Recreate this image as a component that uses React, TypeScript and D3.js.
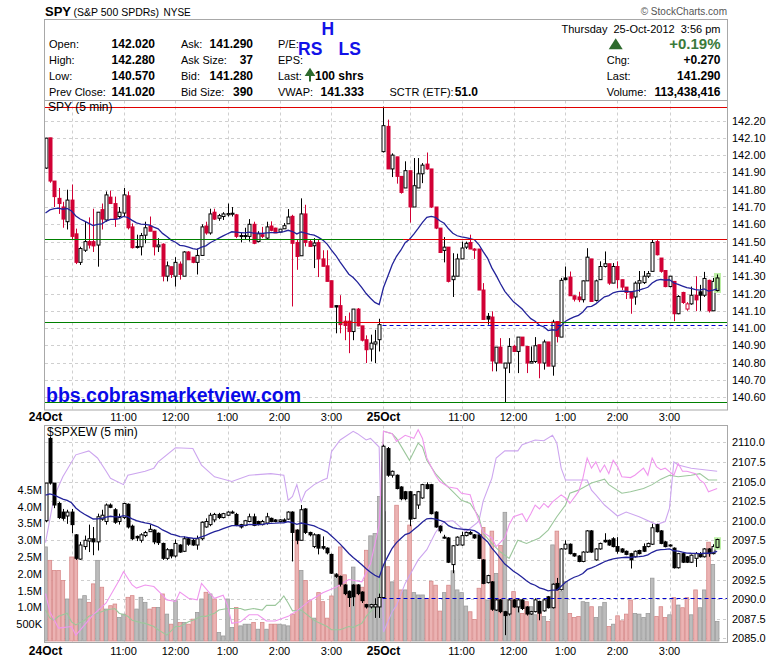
import React from "react";
import * as d3 from "d3";

// ---------- SPY 5-min OHLC (open, high, low, close) ----------
const spyDay1: number[][] = [
  [141.925,142.10,141.92,142.098],[142.10,142.10,141.84,141.85],[141.85,141.85,141.70,141.76],[141.75,141.81,141.66,141.72],[141.70,141.73,141.58,141.63],
  [141.615,141.80,141.57,141.74],[141.74,141.83,141.51,141.53],[141.545,141.575,141.37,141.38],[141.38,141.47,141.365,141.46],[141.45,141.615,141.44,141.50],
  [141.50,141.64,141.46,141.48],[141.50,141.69,141.44,141.475],[141.48,141.67,141.355,141.67],[141.685,141.72,141.57,141.63],[141.625,141.79,141.615,141.77],
  [141.757,141.795,141.72,141.72],[141.72,141.76,141.585,141.63],[141.645,141.70,141.635,141.67],[141.665,141.81,141.645,141.77],[141.765,141.79,141.57,141.58],
  [141.585,141.605,141.46,141.465],[141.472,141.54,141.46,141.468],[141.47,141.55,141.42,141.535],[141.537,141.615,141.49,141.58],[141.59,141.645,141.56,141.56],
  [141.56,141.56,141.42,141.47],[141.47,141.52,141.44,141.48],[141.485,141.49,141.27,141.30],[141.30,141.385,141.27,141.36],[141.355,141.355,141.29,141.31],
  [141.30,141.41,141.24,141.38],[141.37,141.385,141.28,141.31],[141.30,141.445,141.30,141.44],[141.44,141.445,141.395,141.395],[141.41,141.41,141.375,141.38],
  [141.38,141.46,141.31,141.42],[141.42,141.60,141.42,141.585],[141.59,141.615,141.54,141.55],[141.55,141.69,141.54,141.66],[141.67,141.69,141.625,141.63],
  [141.635,141.66,141.62,141.65],[141.645,141.67,141.625,141.66],[141.655,141.72,141.645,141.662],[141.658,141.70,141.645,141.664],[141.655,141.66,141.52,141.53],
  [141.535,141.55,141.495,141.533],[141.535,141.58,141.51,141.534],[141.53,141.63,141.50,141.60],[141.60,141.615,141.485,141.49],[141.50,141.56,141.495,141.545],
  [141.54,141.585,141.52,141.53],[141.52,141.615,141.51,141.585],[141.59,141.617,141.56,141.565],[141.578,141.58,141.55,141.55],[141.555,141.572,141.55,141.572],
  [141.574,141.607,141.574,141.592],[141.603,141.688,141.603,141.642],[141.646,141.655,141.125,141.49],[141.495,141.51,141.337,141.414],[141.418,141.75,141.418,141.66],
  [141.66,141.713,141.472,141.495],[141.50,141.51,141.472,141.472],[141.476,141.52,141.347,141.492],[141.495,141.51,141.295,141.40],[141.40,141.45,141.357,141.357],
  [141.36,141.45,141.27,141.27],[141.274,141.274,141.12,141.12],[141.13,141.13,140.97,141.122],[141.13,141.19,140.97,141.02],[141.04,141.07,140.93,141.015],
  [141.04,141.09,140.855,140.98],[140.98,141.11,140.93,141.11],[141.11,141.116,141.01,141.013],[141.013,141.013,140.923,140.93],[140.933,140.958,140.798,140.875],
  [140.879,140.962,140.807,140.913],[140.908,140.99,140.798,140.92],[140.933,141.054,140.865,141.02],
];
const spyDay2: number[][] = [
  [142.02,142.28,142.015,142.17],[142.166,142.205,141.92,141.92],
  [141.92,142.01,141.873,142.00],[141.99,141.99,141.835,141.877],[141.877,141.877,141.777,141.784],[141.81,141.964,141.81,141.91],[141.91,141.91,141.61,141.70],
  [141.70,141.983,141.70,141.823],[141.81,141.983,141.81,141.892],[141.892,141.954,141.838,141.942],[141.948,142.015,141.915,141.92],[141.92,141.92,141.694,141.70],
  [141.70,141.70,141.572,141.578],[141.578,141.578,141.434,141.437],[141.449,141.526,141.38,141.468],[141.468,141.468,141.264,141.27],[141.28,141.433,141.18,141.30],
  [141.30,141.43,141.30,141.40],[141.40,141.50,141.40,141.463],[141.468,141.50,141.457,141.49],[141.495,141.54,141.457,141.457],[141.457,141.462,141.40,141.45],
  [141.457,141.457,141.22,141.22],[141.22,141.26,141.05,141.05],[141.068,141.087,141.02,141.052],[141.064,141.097,140.75,140.81],[140.798,140.89,140.75,140.89],
  [140.89,140.942,140.798,140.798],[140.769,140.798,140.57,140.798],[140.798,140.942,140.74,140.894],[140.894,140.904,140.865,140.865],[140.865,140.948,140.74,140.948],
  [140.948,140.948,140.898,140.898],[140.894,140.894,140.74,140.798],[140.798,140.894,140.798,140.807],[140.807,140.948,140.798,140.898],[140.904,140.904,140.71,140.798],
  [140.798,140.933,140.76,140.92],[140.92,140.92,140.78,140.78],[140.78,141.048,140.725,141.035],[141.038,141.038,140.917,140.952],[140.948,141.29,140.948,141.276],
  [141.29,141.356,141.276,141.28],[141.295,141.327,141.187,141.187],[141.187,141.19,141.154,141.167],[141.18,141.21,141.15,141.164],[141.164,141.275,141.148,141.273],
  [141.273,141.462,141.273,141.41],[141.40,141.40,141.154,141.154],[141.16,141.28,141.154,141.273],[141.28,141.386,141.28,141.356],[141.356,141.443,141.35,141.372],
  [141.372,141.372,141.25,141.26],[141.26,141.376,141.26,141.356],[141.356,141.386,141.23,141.28],[141.28,141.28,141.22,141.237],[141.237,141.237,141.168,141.206],
  [141.212,141.212,141.083,141.173],[141.18,141.27,141.135,141.26],[141.26,141.33,141.21,141.274],[141.263,141.33,141.255,141.30],[141.30,141.33,141.29,141.315],
  [141.328,141.51,141.328,141.495],[141.50,141.51,141.42,141.424],[141.405,141.405,141.32,141.328],[141.333,141.333,141.236,141.24],[141.24,141.30,141.236,141.30],
  [141.27,141.27,141.04,141.083],[141.083,141.19,141.08,141.183],[141.206,141.21,141.14,141.148],[141.11,141.15,141.10,141.14],[141.14,141.24,141.135,141.19],
  [141.19,141.30,141.098,141.163],[141.21,141.25,141.10,141.19],[141.19,141.325,141.18,141.287],[141.276,141.28,141.09,141.10],[141.10,141.29,141.10,141.27],
  [141.217,141.31,141.212,141.29],
];

// ---------- $SPXEW 5-min OHLC ----------
const ewDay1: number[][] = [
  [2100.0,2104.8,2099.8,2104.8],[2110.5,2110.7,2104.6,2104.8],[2104.8,2104.8,2101.6,2102.0],[2102.2,2102.4,2100.2,2100.4],[2101.1,2101.5,2100.0,2100.3],
  [2100.6,2101.4,2099.6,2101.1],[2101.1,2101.5,2098.4,2099.5],[2098.2,2098.3,2095.0,2095.2],[2095.1,2097.3,2095.0,2096.9],[2096.7,2098.1,2096.3,2097.5],
  [2097.4,2099.5,2096.0,2097.7],[2097.7,2099.2,2095.6,2097.3],[2097.3,2100.9,2096.2,2100.5],[2100.2,2101.4,2100.0,2100.7],[2099.9,2102.2,2099.5,2102.0],
  [2102.0,2102.2,2101.6,2101.7],[2101.4,2101.6,2099.6,2099.8],[2099.9,2100.9,2099.5,2100.4],[2100.4,2102.3,2100.2,2102.2],[2102.1,2102.2,2099.0,2099.2],
  [2099.3,2099.5,2097.5,2097.7],[2098.0,2098.1,2097.4,2097.8],[2097.5,2098.4,2097.2,2098.2],[2098.1,2098.7,2097.9,2098.5],[2098.6,2099.5,2098.6,2098.9],
  [2098.8,2098.9,2097.0,2097.3],[2098.4,2098.5,2096.9,2097.2],[2097.1,2097.2,2095.0,2095.2],[2095.2,2096.5,2095.0,2096.3],[2096.3,2096.4,2095.2,2095.5],
  [2095.5,2097.6,2095.3,2097.1],[2096.9,2097.0,2095.9,2096.0],[2096.1,2098.0,2096.0,2097.7],[2097.7,2097.8,2096.8,2097.0],[2097.5,2097.7,2096.8,2096.9],
  [2096.9,2098.1,2096.3,2097.7],[2097.7,2099.9,2097.5,2099.8],[2099.2,2100.3,2099.1,2099.9],[2099.5,2101.0,2099.3,2100.7],[2100.1,2101.0,2099.8,2100.8],
  [2100.8,2101.0,2100.2,2100.4],[2100.4,2101.0,2100.3,2100.9],[2100.7,2101.2,2100.6,2101.1],[2101.0,2101.3,2100.9,2101.1],[2100.8,2101.0,2099.3,2099.4],
  [2099.5,2099.6,2099.0,2099.2],[2099.4,2100.1,2099.3,2100.0],[2099.9,2100.9,2099.8,2100.5],[2100.5,2100.9,2099.3,2099.4],[2099.9,2100.0,2099.4,2099.5],
  [2099.5,2100.1,2099.4,2099.9],[2099.7,2101.0,2099.5,2100.5],[2100.3,2100.4,2099.8,2099.9],[2100.1,2100.2,2099.8,2099.9],[2099.9,2100.2,2099.8,2100.1],
  [2100.1,2100.3,2099.8,2099.9],[2100.2,2101.2,2100.1,2101.1],[2101.1,2101.2,2094.8,2098.5],[2098.8,2098.9,2097.0,2097.5],[2097.5,2102.0,2097.5,2101.4],
  [2101.5,2101.6,2098.3,2098.5],[2098.5,2098.6,2098.0,2098.2],[2096.7,2098.4,2096.5,2098.2],[2098.2,2098.3,2095.7,2096.5],[2096.7,2098.0,2096.3,2096.5],
  [2096.5,2096.6,2095.7,2095.9],[2095.7,2095.8,2093.2,2093.3],[2093.1,2093.3,2092.7,2092.9],[2092.9,2093.0,2091.6,2091.9],[2091.8,2091.9,2090.5,2090.7],
  [2091.0,2091.1,2089.0,2090.2],[2091.8,2091.9,2089.1,2090.3],[2091.8,2091.9,2090.5,2090.7],[2090.9,2091.0,2089.5,2089.8],[2089.3,2089.4,2088.8,2089.0],
  [2089.0,2089.4,2088.8,2089.3],[2089.0,2090.1,2087.6,2089.3],[2089.0,2090.7,2087.6,2090.2],
];
const ewDay2: number[][] = [
  [2090.2,2109.7,2090.2,2109.5],[2109.2,2109.4,2105.6,2105.8],
  [2105.8,2106.4,2105.5,2106.3],[2105.8,2105.9,2104.0,2104.1],[2104.3,2104.4,2102.6,2102.8],[2103.7,2103.8,2102.6,2102.8],[2103.7,2103.8,2099.3,2100.2],
  [2100.3,2103.4,2100.2,2103.3],[2102.0,2103.8,2101.5,2103.7],[2102.9,2104.7,2102.8,2104.6],[2104.6,2104.9,2104.0,2104.1],[2104.6,2104.7,2100.8,2100.9],
  [2101.1,2101.2,2099.1,2099.2],[2099.3,2099.4,2098.4,2098.7],[2097.8,2098.2,2097.7,2097.9],[2097.8,2097.9,2094.6,2094.7],[2094.4,2096.9,2093.3,2096.8],
  [2096.9,2098.0,2096.8,2097.9],[2096.9,2098.6,2096.8,2098.1],[2098.1,2098.6,2098.0,2098.5],[2098.5,2098.7,2098.2,2098.3],[2098.2,2098.3,2097.7,2097.8],
  [2098.2,2098.3,2095.1,2095.2],[2095.0,2095.1,2091.9,2092.0],[2092.1,2093.1,2092.0,2093.0],[2092.2,2092.3,2088.5,2088.7],[2088.6,2090.0,2088.5,2089.9],
  [2089.9,2090.0,2088.2,2088.4],[2088.4,2088.5,2085.4,2087.9],[2088.1,2090.0,2087.9,2089.9],[2089.9,2090.0,2088.9,2089.0],[2089.0,2090.1,2088.3,2089.9],
  [2089.9,2090.0,2088.6,2088.8],[2089.0,2089.1,2087.9,2088.1],[2088.1,2088.5,2088.0,2088.4],[2088.4,2090.1,2088.3,2089.9],[2089.7,2089.8,2087.3,2088.2],
  [2088.5,2090.0,2088.4,2089.9],[2090.3,2090.4,2088.8,2088.9],[2088.9,2092.0,2088.8,2091.9],[2092.0,2092.7,2091.1,2091.2],[2091.2,2096.5,2091.1,2096.4],
  [2096.4,2097.5,2096.3,2097.0],[2097.0,2097.1,2095.7,2095.8],[2095.8,2095.9,2095.4,2095.5],[2095.5,2095.6,2094.7,2094.8],[2094.8,2096.1,2094.7,2096.0],
  [2096.0,2098.8,2095.9,2098.7],[2098.7,2098.8,2095.9,2096.0],[2095.0,2096.5,2094.9,2096.4],[2096.4,2097.2,2096.3,2097.1],[2097.5,2098.4,2097.2,2097.3],
  [2097.5,2097.6,2096.8,2096.9],[2097.7,2097.9,2096.6,2096.7],[2096.7,2097.9,2095.8,2096.1],[2096.4,2096.5,2095.9,2096.0],[2096.1,2096.2,2095.6,2095.7],
  [2095.8,2095.9,2093.9,2095.0],[2095.4,2096.2,2095.3,2096.1],[2096.2,2096.3,2095.7,2095.8],[2096.7,2097.1,2096.0,2096.1],[2096.7,2097.2,2096.6,2097.1],
  [2097.0,2099.6,2096.9,2099.1],[2099.5,2099.6,2098.5,2098.6],[2098.7,2098.8,2097.0,2097.1],[2097.3,2097.4,2096.6,2096.7],[2096.8,2097.0,2096.7,2096.9],
  [2096.5,2096.6,2093.9,2094.0],[2094.0,2095.9,2093.9,2095.8],[2095.8,2095.9,2094.6,2094.7],[2095.4,2095.5,2094.6,2094.7],[2094.7,2095.7,2094.6,2095.6],
  [2095.2,2096.0,2094.1,2095.8],[2095.8,2096.0,2095.3,2095.4],[2095.4,2096.5,2095.3,2096.4],[2096.4,2096.5,2095.4,2095.8],[2095.8,2097.0,2095.7,2096.7],
  [2096.6,2097.7,2096.5,2097.6],
];

// ---------- SPY volume, millions of shares per bar ----------
const spyVolumeM: number[] = [
  2.8,2.4,2.1,2.1,1.8,1.25,2.5,2.5,1.25,1.35,
  1.15,1.7,2.4,1.6,0.95,1.05,1.1,0.7,0.8,1.3,
  1.35,0.95,1.3,1.15,0.95,1.0,1.0,1.4,0.8,0.5,
  1.2,0.55,0.55,0.5,0.65,0.85,1.25,1.45,1.4,1.25,
  0.25,0.15,1.25,0.4,1.0,0.45,0.5,0.5,0.55,0.35,
  0.55,0.35,0.5,0.5,0.5,0.48,0.45,0.8,3.3,2.1,
  1.8,1.2,0.68,1.44,1.17,0.68,1.34,2.0,2.8,1.97,
  1.44,2.2,1.67,1.6,2.7,3.13,3.2,4.3,3.85,2.21,
  1.76,4.04,1.52,1.52,3.45,1.44,1.37,1.37,1.27,1.78,
  1.66,0.89,1.44,1.66,2.09,1.52,1.44,1.04,0.87,0.64,
  1.57,3.38,1.22,3.27,2.01,2.84,3.83,0.85,1.47,1.02,
  0.82,1.17,1.02,0.78,0.87,0.73,0.58,2.86,3.27,1.47,
  1.77,0.82,0.7,0.73,1.17,1.15,1.02,0.7,1.02,1.15,
  0.43,0.5,0.75,0.6,0.8,1.22,0.82,0.8,0.7,0.82,
  1.87,0.73,1.02,0.7,0.78,1.29,1.07,0.99,1.29,0.78,
  1.52,0.99,1.52,2.94,2.28,0.58,
];

// ---------- comparison overlays in lower panel: [bar, value on panel scale] ----------
const purpleLine: number[][] = [
  [0,2097.2],[2,2103.1],[4,2105.6],[7,2108.4],[10,2108.9],[12,2108.0],[14,2106.3],[15,2105.4],[18,2104.6],[19,2105.8],
  [23,2106.3],[25,2106.7],[26,2107.5],[30,2109.3],[34,2109.2],[36,2107.1],[39,2105.6],[43,2105.0],[47,2105.8],[52,2106.0],
  [55,2105.8],[56,2102.6],[57,2103.1],[58,2104.6],[59,2102.4],[60,2103.7],[62,2104.6],[64,2105.2],[65,2105.4],[66,2108.8],
  [68,2110.3],[71,2111.4],[72,2111.1],[74,2110.3],[75,2110.5],[77,2109.4],[78,2085.8],[80,2088.4],[81,2089.2],[83,2092.0],
  [85,2094.0],[86,2095.0],[88,2096.3],[90,2098.5],[92,2099.9],[94,2100.0],[97,2098.6],[100,2099.9],[101,2102.5],[103,2105.4],
  [104,2108.0],[106,2108.9],[109,2108.9],[110,2109.7],[113,2110.3],[115,2110.2],[117,2110.9],[118,2109.9],[119,2106.7],[120,2105.2],
  [125,2105.2],[126,2103.9],[127,2103.3],[129,2102.0],[132,2100.6],[134,2101.1],[137,2100.5],[141,2099.5],[143,2099.9],[144,2101.6],
  [145,2107.5],[146,2107.1],[149,2106.7],[152,2106.5],[155,2106.3],
];
const pinkLine: number[][] = [
  [0,2090.7],[1,2088.4],[3,2086.3],[6,2086.5],[7,2085.4],[11,2088.0],[14,2089.5],[17,2092.4],[18,2093.5],[20,2091.8],
  [21,2091.4],[23,2091.8],[25,2091.6],[27,2090.5],[28,2089.9],[30,2089.7],[31,2090.9],[33,2090.1],[35,2089.9],[36,2092.0],
  [38,2090.7],[39,2090.1],[41,2090.5],[42,2089.2],[43,2086.9],[45,2087.1],[47,2088.0],[49,2088.0],[51,2087.2],[53,2087.2],
  [56,2087.8],[58,2088.5],[61,2089.8],[64,2090.8],[67,2091.5],[70,2092.5],[73,2092.2],[75,2094.5],[77,2099.5],[78,2111.4],
  [80,2111.1],[81,2110.1],[83,2110.9],[85,2110.5],[86,2111.6],[87,2110.5],[88,2108.0],[90,2105.8],[91,2105.0],[93,2104.3],
  [95,2104.1],[96,2103.5],[98,2103.3],[99,2101.5],[101,2098.5],[103,2097.8],[104,2096.7],[106,2097.8],[107,2099.5],[108,2100.5],
  [110,2100.9],[111,2099.9],[112,2100.9],[113,2102.0],[114,2101.5],[115,2102.2],[116,2101.7],[117,2102.4],[119,2103.3],[120,2102.9],
  [121,2102.2],[123,2103.7],[124,2105.4],[125,2108.0],[126,2106.7],[127,2107.5],[128,2106.2],[129,2107.1],[130,2106.0],[131,2107.7],
  [132,2106.9],[133,2105.6],[135,2105.5],[136,2105.8],[138,2106.7],[139,2105.8],[140,2108.0],[141,2106.9],[142,2106.5],[143,2106.7],
  [145,2105.8],[146,2107.3],[147,2106.3],[148,2106.3],[150,2106.0],[151,2105.2],[152,2104.8],[153,2103.7],[155,2104.1],
];
const greenLine: number[][] = [
  [0,2088.6],[1,2087.6],[2,2087.3],[3,2087.8],[5,2088.2],[6,2087.1],[7,2086.7],[9,2087.3],[10,2087.8],[12,2088.2],
  [14,2088.6],[16,2088.8],[17,2088.2],[19,2087.8],[20,2087.3],[22,2087.0],[23,2086.9],[25,2086.5],[26,2086.1],[28,2085.4],
  [30,2086.5],[31,2086.5],[33,2087.1],[34,2087.3],[36,2087.8],[37,2087.8],[39,2088.2],[40,2088.6],[42,2088.8],[45,2088.8],
  [46,2088.6],[48,2088.8],[50,2088.6],[51,2089.2],[53,2089.2],[54,2089.7],[55,2090.4],[56,2089.5],[57,2088.5],[59,2088.6],
  [62,2087.3],[63,2087.0],[65,2086.5],[66,2086.1],[68,2086.1],[70,2086.5],[71,2086.4],[73,2086.9],[74,2087.8],[76,2089.0],
  [77,2089.5],[78,2111.4],[80,2111.1],[81,2110.5],[84,2107.7],[86,2109.9],[87,2109.4],[88,2107.7],[90,2106.0],[92,2104.8],
  [94,2103.7],[96,2102.6],[98,2102.2],[100,2100.5],[101,2098.4],[103,2097.1],[105,2096.0],[107,2095.2],[109,2097.5],[111,2097.1],
  [114,2097.8],[116,2098.8],[118,2100.5],[120,2102.0],[121,2103.5],[123,2103.9],[126,2104.8],[129,2105.3],[130,2104.6],[133,2103.5],
  [135,2103.7],[138,2104.1],[140,2104.6],[142,2105.3],[144,2105.8],[146,2105.6],[149,2105.8],[151,2106.0],[153,2105.2],[155,2105.2],
];

// moving-average (EMA 20) starting values read from the left edge
const spyEmaSeed = 141.62;
const ewEmaSeed = 2103.1;
const prevCloseSpy = 141.02;
const prevCloseEw = 2090.2;

// horizontal level lines on the SPY panel: value, from bar, to bar, high (red) / low (green)
const levelValues = [142.28, 141.515, 140.57, 141.035, 141.515, 141.035];
const levelFrom = [-2, -2, -2, -2, -2, 68.4];
const levelTo = [160, 160, 160, 160, 82.5, 119];
const levelIsHigh = [true, true, false, false, false, true];

// axes
const spyTicks = [140.6,140.7,140.8,140.9,141.0,141.1,141.2,141.3,141.4,141.5,141.6,141.7,141.8,141.9,142.0,142.1,142.2];
const ewTicks = [2085,2087.5,2090,2092.5,2095,2097.5,2100,2102.5,2105,2107.5,2110];
const volTicks = [0.5,1.0,1.5,2.0,2.5,3.0,3.5,4.0,4.5];
const volTickLabels = ["500K","1.0M","1.5M","2.0M","2.5M","3.0M","3.5M","4.0M","4.5M"];
const timeTickBars = [0,18,30,42,54,66,78,96,108,120,132,144];
const timeTickLabels = ["24Oct","11:00","12:00","1:00","2:00","3:00","25Oct","11:00","12:00","1:00","2:00","3:00"];
const gridBars = [6,18,30,42,54,66,78,84,96,108,120,132,144];

const FONT = "'Liberation Sans', Arial, Helvetica, sans-serif";
const RED = "#d10034";

function ema(closes: number[], seed: number, n = 20) {
  const k = 2 / (n + 1);
  let e = seed;
  return closes.map((c) => (e = e + k * (c - e)));
}

export default function App() {
  const spy = [...spyDay1, ...spyDay2];
  const ew = [...ewDay1, ...ewDay2];
  const n = spy.length;

  const L = 45, R = 727;
  const topY0 = 100.5, topY1 = 410;
  const botY0 = 425.5, botY1 = 642.5;

  const x = d3.scaleLinear().domain([0, 155]).range([45.5, 45.5 + 155 * (52 / 12)]);
  const yT = d3.scaleLinear().domain([140.6, 142.2]).range([397.3, 120.5]);
  const yB = d3.scaleLinear().domain([2085, 2110]).range([638.3, 442.3]);
  const yV = d3.scaleLinear().domain([0, 4.5]).range([641, 489.8]);
  const cxOf = (i: number) => Math.round(x(i)) + 0.5;
  const snap = (v: number) => Math.round(v) + 0.5;

  const spyEma = ema(spy.map((d) => d[3]), spyEmaSeed);
  const ewEma = ema(ew.map((d) => d[3]), ewEmaSeed);
  const lineT = d3.line<number>().x((_, i) => x(i)).y((d) => yT(d));
  const lineB = d3.line<number>().x((_, i) => x(i)).y((d) => yB(d));
  const lineO = d3.line<number[]>().x((d) => x(d[0])).y((d) => yB(d[1]));
  const xl = (b: number) => Math.max(L, Math.min(R, x(b)));

  const gridStyle = { stroke: "#cfcfcf", strokeWidth: 1, strokeDasharray: "3,3" };
  const last = n - 1;
  const HL = "#bdf0a6";

  const spyCandles = spy.map((d, i) => {
    const [o, h, l, c] = d;
    const prev = i === 0 ? o : spy[i - 1][3];
    const col = c >= prev ? "#000" : RED;
    const up = c >= o;
    const cx = cxOf(i);
    const yTop = yT(Math.max(o, c));
    const yBot = yT(Math.min(o, c));
    const bh = Math.max(1, yBot - yTop);
    return (
      <g key={"s" + i}>
        {i === last && <rect x={cx - 3.5} y={yT(h) - 1.5} width={7} height={yT(l) - yT(h) + 3} fill={HL} />}
        <line x1={cx} x2={cx} y1={yT(h)} y2={yT(l)} stroke={col} strokeWidth={1} />
        {up ? (
          <rect x={cx - 1.5} y={yTop} width={3} height={bh} fill={i === last ? HL : "#fff"} stroke={col} strokeWidth={1} />
        ) : (
          <rect x={cx - 2} y={yTop - 0.5} width={4} height={bh + 1} fill={col} />
        )}
      </g>
    );
  });

  const ewCandles = ew.map((d, i) => {
    const [o, h, l, c] = d;
    const up = c >= o;
    const cx = cxOf(i);
    const yTop = yB(Math.max(o, c));
    const yBot = yB(Math.min(o, c));
    const bh = Math.max(1, yBot - yTop);
    return (
      <g key={"e" + i}>
        {i === last && <rect x={cx - 3.5} y={yB(h) - 1.5} width={7} height={yB(l) - yB(h) + 3} fill={HL} />}
        <line x1={cx} x2={cx} y1={yB(h)} y2={yB(l)} stroke="#000" strokeWidth={1} />
        {up ? (
          <rect x={cx - 1.5} y={yTop} width={3} height={bh} fill={i === last ? HL : "#fff"} stroke="#000" strokeWidth={1} />
        ) : (
          <rect x={cx - 2} y={yTop - 0.5} width={4} height={bh + 1} fill="#000" />
        )}
      </g>
    );
  });

  const volBars = spyVolumeM.map((v, i) => {
    const prev = i === 0 ? spy[0][0] : spy[i - 1][3];
    const down = spy[i][3] < prev;
    const x0 = x(i) - 2.17;
    return (
      <rect key={"v" + i} x={x0 + 0.4} y={yV(v)} width={3.6} height={yV(0) - yV(v)}
        fill={down ? "#ebb3b3" : "#bcbcbc"} stroke={down ? "#d78a8a" : "#9c9c9c"} strokeWidth={0.8} />
    );
  });

  const label = (xx: number, yy: number, t: string, extra: any = {}) => (
    <text x={xx} y={yy} fontSize={11} {...extra}>{t}</text>
  );
  const val = (xx: number, yy: number, t: string, extra: any = {}) => (
    <text x={xx} y={yy} fontSize={12} fontWeight="bold" textAnchor="end" {...extra}>{t}</text>
  );
  const rows = [48.3, 64.1, 79.9, 95.7];
  const isDay = (s: string) => s.includes("Oct");

  return (
    <div style={{ position: "absolute", left: 0, top: 0, width: 780, height: 659, background: "#fff" }}>
      <svg width={780} height={659} style={{ display: "block" }} fontFamily={FONT}>
        <defs>
          <clipPath id="clipTop"><rect x={L} y={topY0} width={R - L} height={topY1 - topY0} /></clipPath>
          <clipPath id="clipBot"><rect x={L} y={botY0} width={R - L} height={botY1 - botY0} /></clipPath>
        </defs>
        <rect x={0} y={0} width={780} height={659} fill="#fff" />

        {/* title */}
        <text x={45} y={16} fontSize={13} fontWeight="bold">SPY</text>
        <text x={73.5} y={16} fontSize={10.5}>(S&amp;P 500 SPDRs)</text>
        <text x={163.5} y={16} fontSize={10}>NYSE</text>
        <text x={727} y={15} fontSize={10} fill="#555" textAnchor="end">© StockCharts.com</text>

        {/* header box */}
        <rect x={44.5} y={19.5} width={683} height={81} fill="none" stroke="#a8a8a8" />
        {label(49, rows[0], "Open:")}{val(155, rows[0], "142.020")}
        {label(49, rows[1], "High:")}{val(155, rows[1], "142.280")}
        {label(49, rows[2], "Low:")}{val(155, rows[2], "140.570")}
        {label(49, rows[3], "Prev Close:")}{val(155, rows[3], "141.020")}
        {label(181, rows[0], "Ask:")}{val(253, rows[0], "141.290")}
        {label(181, rows[1], "Ask Size:")}{val(253, rows[1], "37")}
        {label(181, rows[2], "Bid:")}{val(253, rows[2], "141.280")}
        {label(181, rows[3], "Bid Size:")}{val(253, rows[3], "390")}
        {label(278, rows[0], "P/E:")}
        {label(278, rows[1], "EPS:")}
        {label(278, rows[2], "Last:")}
        <path d="M310,81.5 L310,73 M306.5,75 L310,69.5 L313.5,75 Z" stroke="#2e6b2e" strokeWidth={2} fill="#2e6b2e" />
        <text x={315} y={rows[2]} fontSize={12} fontWeight="bold">100 shrs</text>
        {label(278, rows[3], "VWAP:")}{val(364, rows[3], "141.333")}
        {label(389.5, rows[3], "SCTR (ETF):")}{val(478, rows[3], "51.0")}

        <text x={720.5} y={32.5} fontSize={11} textAnchor="end" xmlSpace="preserve">Thursday  25-Oct-2012  3:56 pm</text>
        <path d="M615.7,38.3 L608.7,49.3 L622.7,49.3 Z" fill="#2e6b2e" />
        <text x={720.5} y={49} fontSize={15} fontWeight="bold" textAnchor="end" fill="#3b7a3b">+0.19%</text>
        {label(606.7, rows[1], "Chg:")}{val(720.5, rows[1], "+0.270")}
        {label(606.7, rows[2], "Last:")}{val(720.5, rows[2], "141.290")}
        {label(606.7, rows[3], "Volume:")}{val(720.5, rows[3], "113,438,416")}

        <g fill="#1212e8" fontWeight="bold" fontSize={17.5}>
          <text x={321.5} y={34.5}>H</text>
          <text x={298} y={55}>RS</text>
          <text x={338.5} y={54.5}>LS</text>
        </g>

        {/* ===== top panel ===== */}
        <g>
          {spyTicks.map((t) => (
            <line key={"gt" + t} x1={L} x2={R} y1={snap(yT(t))} y2={snap(yT(t))} {...gridStyle} />
          ))}
          {gridBars.map((b) => (
            <line key={"gv" + b} x1={cxOf(b)} x2={cxOf(b)} y1={topY0} y2={topY1} {...gridStyle} />
          ))}
        </g>
        <g clipPath="url(#clipTop)">
          {spyCandles}
          <path d={lineT(spyEma) || ""} fill="none" stroke="#23239a" strokeWidth={1.3} />
          {levelValues.map((v, k) => (
            <line key={"lv" + k} x1={xl(levelFrom[k])} x2={xl(levelTo[k])} y1={snap(yT(v))} y2={snap(yT(v))}
              stroke={levelIsHigh[k] ? "#e00000" : "#008000"} strokeWidth={1} />
          ))}
          <line x1={x(78) - 1} x2={R} y1={snap(yT(prevCloseSpy))} y2={snap(yT(prevCloseSpy))} stroke="#0000cc" strokeWidth={1} strokeDasharray="4,3" />
        </g>
        <text x={48} y={111} fontSize={12}>SPY (5 min)</text>
        <text x={46} y={401.5} fontSize={19.5} fontWeight="bold" fill="#0a0ae8">bbs.cobrasmarketview.com</text>
        <rect x={44.5} y={topY0} width={R - 44.5 + 0.5} height={topY1 - topY0} fill="none" stroke="#a8a8a8" />
        {spyTicks.map((t) => (
          <text key={"lt" + t} x={732} y={yT(t) + 4} fontSize={11}>{t.toFixed(2)}</text>
        ))}

        {/* time labels between panels */}
        {timeTickBars.map((b, k) => (
          <text key={"tl" + k} x={x(b)} y={421} fontSize={isDay(timeTickLabels[k]) ? 12 : 11}
            fontWeight={isDay(timeTickLabels[k]) ? "bold" : "normal"} textAnchor="middle">{timeTickLabels[k]}</text>
        ))}

        {/* ===== bottom panel ===== */}
        <g>
          {ewTicks.map((t) => (
            <line key={"gb" + t} x1={L} x2={R} y1={snap(yB(t))} y2={snap(yB(t))} {...gridStyle} />
          ))}
          {gridBars.map((b) => (
            <line key={"gbv" + b} x1={cxOf(b)} x2={cxOf(b)} y1={botY0} y2={botY1} {...gridStyle} />
          ))}
        </g>
        <g clipPath="url(#clipBot)">
          {volBars}
          <path d={lineO(purpleLine) || ""} fill="none" stroke="#cda6ef" strokeWidth={1.1} />
          <path d={lineO(greenLine) || ""} fill="none" stroke="#9cc79c" strokeWidth={1.1} />
          <path d={lineO(pinkLine) || ""} fill="none" stroke="#f096ee" strokeWidth={1.1} />
          {ewCandles}
          <path d={lineB(ewEma) || ""} fill="none" stroke="#23239a" strokeWidth={1.3} />
          <line x1={x(78) - 1} x2={R} y1={snap(yB(prevCloseEw))} y2={snap(yB(prevCloseEw))} stroke="#0000cc" strokeWidth={1} strokeDasharray="4,3" />
        </g>
        <text x={47} y={436} fontSize={12}>$SPXEW (5 min)</text>
        <rect x={44.5} y={botY0} width={R - 44.5 + 0.5} height={botY1 - botY0} fill="none" stroke="#a8a8a8" />
        {ewTicks.map((t) => (
          <text key={"lb" + t} x={732} y={yB(t) + 4} fontSize={11}>{t.toFixed(1)}</text>
        ))}
        {volTicks.map((t, k) => (
          <text key={"vl" + t} x={42} y={yV(t) + 4} fontSize={11} textAnchor="end">{volTickLabels[k]}</text>
        ))}
        {timeTickBars.map((b, k) => (
          <text key={"tb" + k} x={x(b)} y={654.5} fontSize={isDay(timeTickLabels[k]) ? 12 : 11}
            fontWeight={isDay(timeTickLabels[k]) ? "bold" : "normal"} textAnchor="middle">{timeTickLabels[k]}</text>
        ))}
      </svg>
    </div>
  );
}
